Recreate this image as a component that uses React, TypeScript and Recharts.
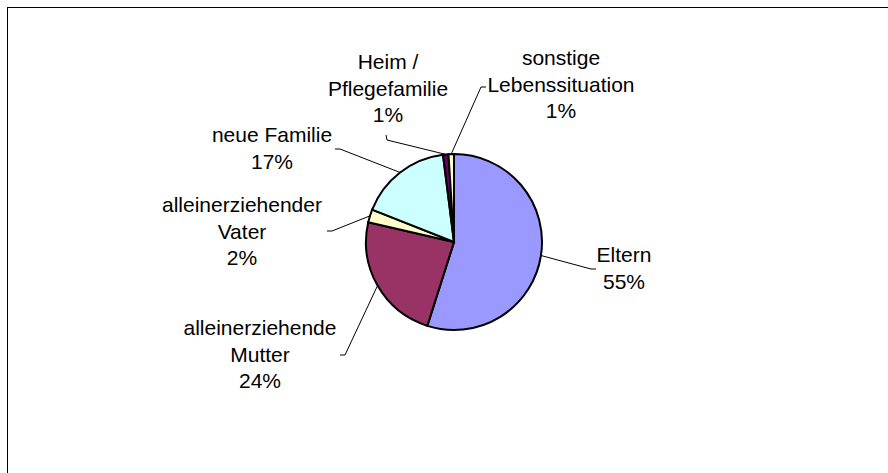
import React from 'react';
import { PieChart, Pie, Cell } from 'recharts';

// Lebenssituation der Kinder (Anteile in %)
const categories = [
  'Eltern',
  'alleinerziehende\nMutter',
  'alleinerziehender\nVater',
  'neue Familie',
  'Heim /\nPflegefamilie',
  'sonstige\nLebenssituation',
];
const shares = [54.9, 23.7, 2.4, 17.0, 1.0, 1.0];
const COLORS = ['#9999FF', '#993366', '#FFFFCC', '#CCFFFF', '#660066', '#FFFFCC'];

// label placement (text centre, first baseline, leader elbow and end)
const LABEL_LAYOUT = [
  { tx: 624, ty: 262, elbow: [591, 269], end: [596, 269] },
  { tx: 260, ty: 335, elbow: [345, 355], end: [340, 355] },
  { tx: 242, ty: 212, elbow: [332, 231], end: [327, 231] },
  { tx: 272, ty: 142, elbow: [340, 149], end: [335, 149] },
  { tx: 388, ty: 69, elbow: [387, 140], end: [386, 135] },
  { tx: 561, ty: 65, elbow: [481, 87], end: [486, 87] },
];

const LINE_H = 26.5;
const RADIAN = Math.PI / 180;

const data = categories.map((name, i) => ({ name, value: shares[i] }));

const renderLabel = (props: any) => {
  const { cx, cy, midAngle, outerRadius, percent, index } = props;
  const layout = LABEL_LAYOUT[index];
  const sx = cx + outerRadius * Math.cos(-midAngle * RADIAN);
  const sy = cy + outerRadius * Math.sin(-midAngle * RADIAN);
  const lines = [...categories[index].split('\n'), `${Math.round(percent * 100)}%`];

  return (
    <g key={`label-${index}`}>
      <polyline
        points={`${sx},${sy} ${layout.elbow[0]},${layout.elbow[1]} ${layout.end[0]},${layout.end[1]}`}
        fill="none"
        stroke="#000"
        strokeWidth={1}
      />
      <text
        x={layout.tx}
        y={layout.ty}
        textAnchor="middle"
        fill="#000"
        fontSize={21}
        fontFamily="'Liberation Sans', Arial, sans-serif"
      >
        {lines.map((line, i) => (
          <tspan key={i} x={layout.tx} y={layout.ty + i * LINE_H}>
            {line}
          </tspan>
        ))}
      </text>
    </g>
  );
};

export default function App() {
  return (
    <div
      style={{
        position: 'absolute',
        left: 0,
        top: 0,
        width: 888,
        height: 473,
        overflow: 'hidden',
        background: '#fff',
      }}
    >
      <div
        style={{
          position: 'absolute',
          left: 7,
          top: 7,
          width: 900,
          height: 500,
          borderTop: '1px solid #000',
          borderLeft: '1px solid #000',
        }}
      />
      <div style={{ position: 'absolute', left: 0, top: 0 }}>
        <PieChart width={888} height={473} margin={{ top: 0, right: 0, bottom: 0, left: 0 }}>
          <Pie
            data={data}
            dataKey="value"
            nameKey="name"
            cx={454}
            cy={242}
            outerRadius={88}
            startAngle={90}
            endAngle={-270}
            stroke="#000"
            strokeWidth={2}
            labelLine={false}
            label={renderLabel}
            isAnimationActive={false}
          >
            {data.map((_, i) => (
              <Cell key={`cell-${i}`} fill={COLORS[i]} />
            ))}
          </Pie>
        </PieChart>
      </div>
    </div>
  );
}
